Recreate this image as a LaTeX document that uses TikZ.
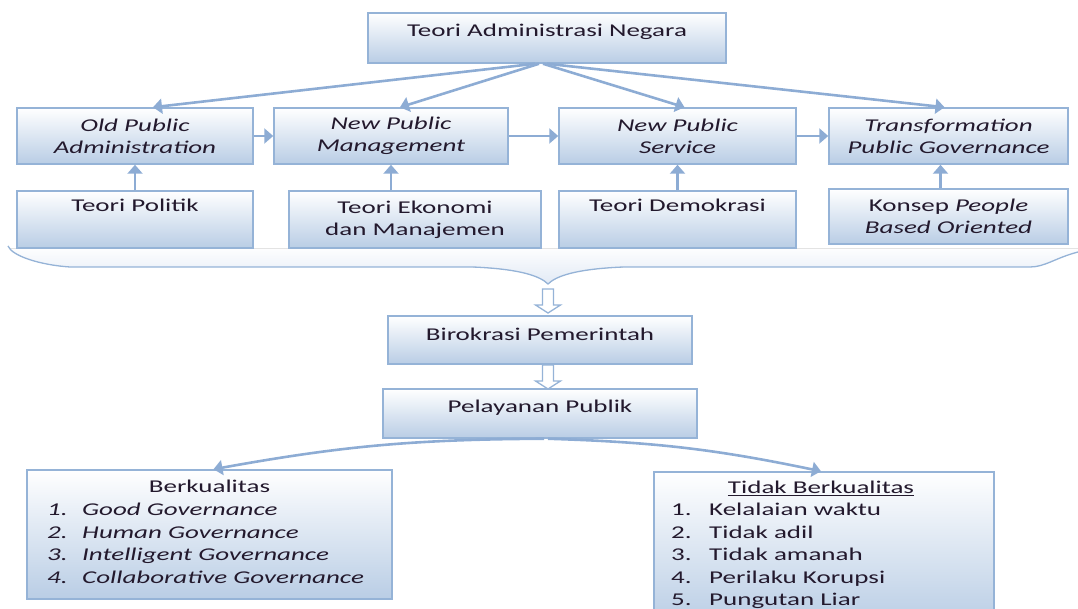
\documentclass[tikz,border=0pt]{standalone}
\usepackage{fontspec}
\setmainfont{Carlito}[FakeStretch=1.5]
\usetikzlibrary{arrows.meta}
\definecolor{bd}{RGB}{149,179,215}
\definecolor{ar}{RGB}{141,172,212}
\definecolor{bf}{RGB}{185,205,229}
\definecolor{bracefill}{RGB}{226,234,245}
\definecolor{tx}{RGB}{35,25,45}
\newcommand\liftT[1]{\raisebox{6pt}[\height][\depth]{#1}}
\begin{document}
\begin{tikzpicture}[x=1pt,y=-1pt,
  box/.style={draw=bd, line width=1.5pt, top color=white, bottom color=bf,
    text=tx, align=center, inner sep=0pt, font=\fontsize{18}{22}\selectfont},
  txt/.style={text=tx, inner sep=0pt, font=\fontsize{18}{22.5}\selectfont},
  con/.style={draw=ar, line width=2.6pt, -{Triangle[width=15pt,length=9pt]}},
  hol/.style={draw=bd, line width=1.3pt, fill=white, line join=miter}
]
\useasboundingbox (0,0) rectangle (1078,609);

% brace shape under the two rows
\fill[top color=white, bottom color=bracefill]
  (8,249) -- (1078,249) -- (1078,252) .. controls (1055,258) and (1045,267) .. (1030,267)
  -- (623,267) .. controls (576,269) and (556,276) .. (548,284)
  .. controls (540,276) and (520,269) .. (473,267)
  -- (70,267) .. controls (40,265) and (12,256) .. (8,246) -- cycle;
\draw[draw=bd, line width=1.3pt]
  (8,246) .. controls (12,256) and (40,265) .. (70,267) -- (473,267)
  .. controls (520,269) and (540,276) .. (548,284)
  .. controls (556,276) and (576,269) .. (623,267) -- (1030,267)
  .. controls (1045,267) and (1055,258) .. (1078,252);

% nodes
\node[box, minimum width=358pt, minimum height=50pt] (top) at (547,38) {\liftT{Teori Administrasi Negara}};

\node[box, minimum width=236pt, minimum height=56pt] (opa) at (135,136) {\textit{Old Public}\\\textit{Administration}};
\node[box, minimum width=234pt, minimum height=56pt] (npm) at (391,136) {\textit{New Public}\\\textit{Management}};
\node[box, minimum width=237pt, minimum height=56pt] (nps) at (677.5,136) {\textit{New Public}\\\textit{Service}};
\node[box, minimum width=239pt, minimum height=56pt] (tpg) at (948.5,136) {\textit{Transformation}\\\textit{Public Governance}};

\node[box, minimum width=236pt, minimum height=57pt] (pol) at (135,219.5) {Teori Politik\\\strut};
\node[box, minimum width=252pt, minimum height=57pt] (eko) at (415,219.5) {Teori Ekonomi\\dan Manajemen};
\node[box, minimum width=237pt, minimum height=57pt] (dem) at (677.5,219.5) {Teori Demokrasi\\\strut};
\node[box, minimum width=239pt, minimum height=55pt] (kon) at (948.5,216.5) {Konsep \textit{People}\\\textit{Based Oriented}};

\node[box, minimum width=304pt, minimum height=48pt] (bir) at (540,340) {\liftT{Birokrasi Pemerintah}};
\node[box, minimum width=314pt, minimum height=49pt] (pel) at (540,413.5) {\liftT{Pelayanan Publik}};

\node[box, minimum width=365pt, minimum height=129pt] (berk) at (209.5,534.5) {};
\node[box, minimum width=340pt, minimum height=153pt] (tdk) at (824,548.5) {};

\node[txt, anchor=base] (berkT) at (209.5,492.5) {Berkualitas};
\node[txt, anchor=north west, align=left] (berkL) at (47,500) {
  \strut\textit{\makebox[35pt][l]{1.}Good Governance}\\
  \textit{\makebox[35pt][l]{2.}Human Governance}\\
  \textit{\makebox[35pt][l]{3.}Intelligent Governance}\\
  \textit{\makebox[35pt][l]{4.}Collaborative Governance}};

\node[txt, anchor=base] (tdkT) at (821,493.5) {\underline{Tidak Berkualitas}};
\node[txt, anchor=north west, align=left] (tdkL) at (671,500) {
  \strut\makebox[38pt][l]{1.}Kelalaian waktu\\
  \makebox[38pt][l]{2.}Tidak adil\\
  \makebox[38pt][l]{3.}Tidak amanah\\
  \makebox[38pt][l]{4.}Perilaku Korupsi\\
  \makebox[38pt][l]{5.}Pungutan Liar};

% connectors from top box
\draw[con] ([xshift=-12pt]top.south) -- ([xshift=18pt]opa.north);
\draw[con] ([xshift=-8pt]top.south) -- ([xshift=9pt]npm.north);
\draw[con] ([xshift=-4pt]top.south) -- ([xshift=7pt]nps.north);
\draw[con] (top.south) -- ([xshift=-4pt]tpg.north);

% horizontal connectors
\draw[con] (opa.east) -- (npm.west);
\draw[con] (npm.east) -- (nps.west);
\draw[con] (nps.east) -- (tpg.west);

% vertical connectors
\draw[con] (pol.north) -- (opa.south);
\draw[con] (eko.north -| npm.south) -- (npm.south);
\draw[con] (dem.north) -- (nps.south);
\draw[con] ([xshift=-8pt]kon.north) -- ([xshift=-8pt]tpg.south);

% hollow block arrows
\coordinate (h1) at (548,289);
\draw[hol] (h1) ++(-5.5,0) -- ++(11,0) -- ++(0,16) -- ++(7,0) -- ++(-12.5,8) -- ++(-12.5,-8) -- ++(7,0) -- cycle;
\coordinate (h2) at (548,365);
\draw[hol] (h2) ++(-5.5,0) -- ++(11,0) -- ++(0,16) -- ++(7,0) -- ++(-12.5,8) -- ++(-12.5,-8) -- ++(7,0) -- cycle;

% bottom connectors
\draw[con] ([xshift=4pt]pel.south) to[bend right=5] ([xshift=4pt]berk.north);
\draw[con] ([xshift=8pt]pel.south) to[bend left=5] ([xshift=-3pt]tdk.north);
\end{tikzpicture}
\end{document}
